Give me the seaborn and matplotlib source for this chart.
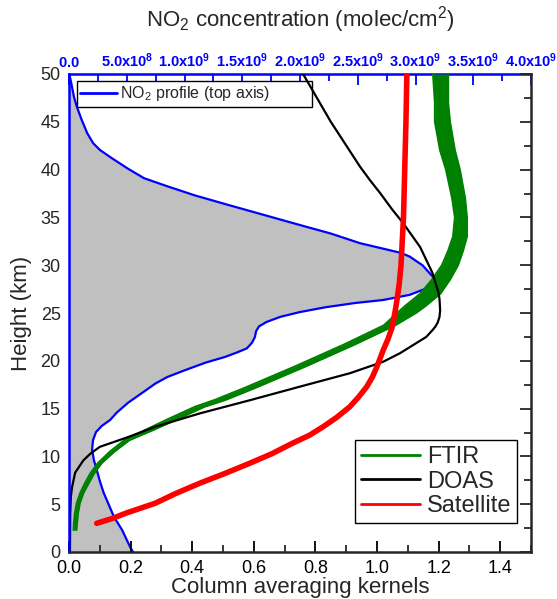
import matplotlib
matplotlib.use('Agg')
import matplotlib.pyplot as plt
import seaborn as sns
import numpy as np
from matplotlib.ticker import MultipleLocator, FuncFormatter
from matplotlib.lines import Line2D

# ---------------- data ----------------
# NO2 profile (top axis), concentration in units of 1e9 molec/cm2
profile_h = [50, 48.85, 47.6, 46.6, 45.2, 43.8, 42.75, 42.05, 41.2, 40.1, 39.1, 38.3, 37.3,
             36.3, 35.25, 34.2, 33.3, 32.3, 31.3, 30.9, 30.0, 28.8, 28.5, 27.6, 26.9,
             26.36, 26.05, 25.6, 25.1, 24.6, 24.06, 23.6, 23.1, 22.5, 21.9, 21.3, 20.9,
             20.4, 19.8, 19.0, 18.3, 17.6, 16.7, 15.6, 14.6, 13.8, 13.2, 12.55, 11.7,
             10.7, 9.6, 8.6, 7.3, 6.2, 4.9, 3.66, 2.3, 0.5, 0]
profile_c = [0.003, 0.023, 0.043, 0.067, 0.11, 0.158, 0.21, 0.268, 0.37, 0.51, 0.65, 0.84,
             1.09, 1.38, 1.69, 2.0, 2.27, 2.52, 2.87, 2.95, 3.06, 3.15, 3.17, 3.10, 2.95,
             2.72, 2.48, 2.22, 2.0, 1.83, 1.71, 1.645, 1.62, 1.61, 1.585, 1.54, 1.46,
             1.35, 1.18, 1.00, 0.85, 0.745, 0.64, 0.51, 0.415, 0.355, 0.285, 0.234, 0.208,
             0.20, 0.216, 0.24, 0.27, 0.30, 0.346, 0.39, 0.46, 0.53, 0.554]

# DOAS column averaging kernel
doas_h = [50, 45, 40.3, 38.9, 37.55, 35.8, 34.4, 31.9, 29.2, 27.1, 26.4, 25.3, 24.6, 24.0,
          23.6, 23.2, 22.5, 21.9, 21.3, 20.8, 19.9, 18.7, 17.3, 15.9, 14.5, 13.1, 12.0,
          11.5, 11.0, 10.3, 9.6, 8.3, 6.8, 5.8, 4.0, 0]
doas_k = [0.76, 0.85, 0.945, 0.977, 1.01, 1.05, 1.085, 1.14, 1.18, 1.20, 1.203, 1.205, 1.203,
          1.197, 1.19, 1.18, 1.16, 1.13, 1.10, 1.075, 1.02, 0.912, 0.75, 0.59, 0.425, 0.28,
          0.19, 0.145, 0.10, 0.07, 0.047, 0.02, 0.01, 0.006, 0.004, 0.003]

# FTIR kernels: left and right edges of the bundle of curves
ftir_h = [50, 47, 45, 42, 40, 37, 35, 33, 31.5, 30, 28.5, 27, 25.7, 25, 23.7, 21.7, 19.4,
          17.2, 15.9, 15.2, 13.8, 12.8, 11.7, 10.5, 9.3, 8.2, 7.2, 6.2, 5.1, 4.0, 3.0, 2.3]
ftir_left = [1.182, 1.188, 1.188, 1.205, 1.224, 1.244, 1.253, 1.247, 1.231, 1.211, 1.179,
             1.14, 1.090, 1.066, 1.022, 0.893, 0.733, 0.573, 0.473, 0.410, 0.315, 0.250,
             0.180, 0.133, 0.094, 0.069, 0.052, 0.037, 0.025, 0.019, 0.016, 0.015]
ftir_right = [1.231, 1.231, 1.237, 1.253, 1.269, 1.286, 1.292, 1.292, 1.279, 1.263, 1.237,
              1.205, 1.156, 1.126, 1.058, 0.927, 0.767, 0.607, 0.507, 0.440, 0.345, 0.276,
              0.196, 0.147, 0.106, 0.081, 0.064, 0.047, 0.035, 0.029, 0.026, 0.024]

# Satellite kernel
sat_h = [50, 45, 40, 35, 30, 28, 26.4, 25, 23.5, 22.3, 21.1, 19.4, 18.3, 17.3, 16.2, 15.2,
         14.1, 13.1, 12.2, 11.4, 10.3, 9.3, 8.2, 7.2, 6.1, 5.1, 4.1, 3.5, 3.0]
sat_k = [1.097, 1.094, 1.09, 1.086, 1.078, 1.072, 1.065, 1.058, 1.049, 1.036, 1.02, 1.0,
         0.985, 0.967, 0.94, 0.912, 0.87, 0.825, 0.78, 0.727, 0.66, 0.588, 0.505, 0.425,
         0.345, 0.28, 0.188, 0.14, 0.09]

legend_labels = ['FTIR', 'DOAS', 'Satellite']
series_colors = ['#008000', '#000000', '#ff0000']
profile_label = 'NO$_2$ profile (top axis)'

# ---------------- style ----------------
sns.set_style('ticks')
plt.rcParams['font.family'] = ['Liberation Sans', 'DejaVu Sans']
plt.rcParams['mathtext.fontset'] = 'custom'
plt.rcParams['mathtext.rm'] = 'Liberation Sans'
plt.rcParams['mathtext.bf'] = 'Liberation Sans:bold'
plt.rcParams['mathtext.it'] = 'Liberation Sans:italic'

fig = plt.figure(figsize=(5.57, 5.99), dpi=100)
ax = fig.add_axes([69 / 557, 47 / 599, 462 / 557, 478 / 599])
ax2 = ax.twiny()
ax2.set_zorder(0)
ax.set_zorder(1)
ax.patch.set_visible(False)

blue = '#0000ff'

# ---- NO2 profile on top axis ----
conc = np.array(profile_c) * 1e9
ax2.fill_betweenx(profile_h, 0, conc, color='#c0c0c0', lw=0)
sns.lineplot(x=conc, y=profile_h, sort=False, estimator=None, ax=ax2, color=blue,
             lw=1.6, legend=False)
ax2.set_xlim(0, 4e9)

# ---- kernels on bottom axis ----
ax.fill_betweenx(ftir_h, ftir_left, ftir_right, color=series_colors[0], lw=0)
sns.lineplot(x=ftir_left, y=ftir_h, sort=False, estimator=None, ax=ax,
             color=series_colors[0], lw=1.5, legend=False)
sns.lineplot(x=ftir_right, y=ftir_h, sort=False, estimator=None, ax=ax,
             color=series_colors[0], lw=1.5, legend=False)
sns.lineplot(x=doas_k, y=doas_h, sort=False, estimator=None, ax=ax,
             color=series_colors[1], lw=1.6, legend=False)
sns.lineplot(x=sat_k, y=sat_h, sort=False, estimator=None, ax=ax,
             color=series_colors[2], lw=4.0, legend=False)
for ln in ax.lines + ax2.lines:
    ln.set_solid_joinstyle('round')
    ln.set_solid_capstyle('round')

ax.set_xlim(0, 1.5)
ax.set_ylim(0, 50)

# ---- ticks ----
ax.xaxis.set_major_locator(MultipleLocator(0.2))
ax.xaxis.set_minor_locator(MultipleLocator(0.1))
ax.xaxis.set_major_formatter(FuncFormatter(lambda v, p: f'{v:.1f}'))
ax.yaxis.set_major_locator(MultipleLocator(5))
ax.yaxis.set_minor_locator(MultipleLocator(2.5))
ax.tick_params(axis='x', which='major', direction='in', length=8, width=1.3,
               labelsize=13, pad=6, colors='black')
ax.tick_params(axis='x', which='minor', direction='in', length=5, width=1.3)
ax.tick_params(axis='y', which='both', direction='in', left=False, right=True,
               labelleft=True, labelright=False, labelsize=13, pad=6, width=1.3)
ax.tick_params(axis='y', which='major', length=8)
ax.tick_params(axis='y', which='minor', length=5)


def top_fmt(v, pos):
    if v <= 1e6:
        return r'$\mathbf{0.0}$' if abs(v) < 1e6 else ''
    e = int(np.floor(np.log10(v) + 1e-9))
    m = v / 10 ** e
    return rf'$\mathbf{{{m:.1f}x10^{{{e}}}}}$'


ax2.xaxis.set_major_locator(MultipleLocator(5e8))
ax2.xaxis.set_minor_locator(MultipleLocator(2.5e8))
ax2.xaxis.set_major_formatter(FuncFormatter(top_fmt))
ax2.tick_params(axis='x', which='major', direction='in', length=8, width=1.3,
                color=blue, labelcolor=blue, labelsize=10.5, pad=3)
ax2.tick_params(axis='x', which='minor', direction='in', length=5, width=1.3, color=blue)

# ---- spines ----
for s in ['top', 'left', 'right', 'bottom']:
    ax2.spines[s].set_visible(False)
ax2.spines['top'].set_visible(True)
ax2.spines['top'].set_color(blue)
ax2.spines['top'].set_linewidth(1.8)
ax.spines['top'].set_visible(False)
ax.spines['left'].set_color(blue)
for s in ['left', 'right', 'bottom']:
    ax.spines[s].set_linewidth(1.8)

# ---- labels ----
ax.set_xlabel('Column averaging kernels', fontsize=16, labelpad=0)
ax.set_ylabel('Height (km)', fontsize=16, labelpad=6)
ax2.set_xlabel('NO$_2$ concentration (molec/cm$^2$)', fontsize=16, labelpad=18)

# ---- legends ----
h_prof = [Line2D([], [], color=blue, lw=2)]
leg1 = ax2.legend(h_prof, [profile_label], loc='upper left',
                  bbox_to_anchor=(8 / 462, 0.985, 235 / 462, 0.0), mode='expand',
                  borderaxespad=0, fontsize=11.5, frameon=True, fancybox=False,
                  edgecolor='black', framealpha=1, handlelength=2.3, handletextpad=0.2,
                  borderpad=0.2)
leg1.get_frame().set_linewidth(1.0)

h_k = [Line2D([], [], color=c, lw=2) for c in series_colors]
leg2 = ax.legend(h_k, legend_labels, loc='lower right', bbox_to_anchor=(0.97, 0.061),
                 borderaxespad=0, fontsize=17, frameon=True, fancybox=False,
                 edgecolor='black', framealpha=1, handlelength=2.5, handletextpad=0.3,
                 labelspacing=0.1, borderpad=0.25)
leg2.get_frame().set_linewidth(1.0)

fig.savefig('out.png', dpi=100)
